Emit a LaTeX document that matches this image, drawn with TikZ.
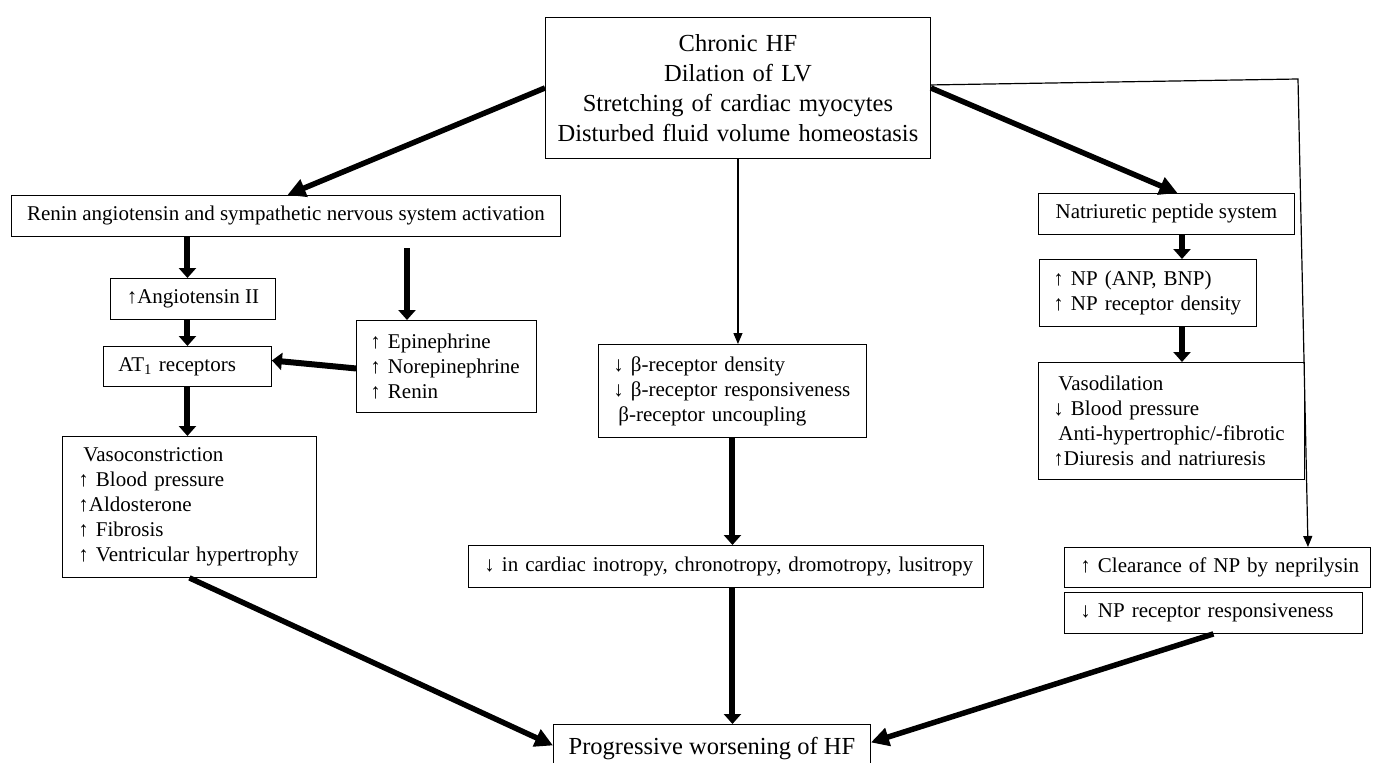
\documentclass[tikz,border=0pt]{standalone}
\usepackage{fontspec}
\setmainfont{Liberation Serif}
\usetikzlibrary{arrows.meta,calc}
\newcommand\fsA{\fontsize{21}{25}\selectfont}
\newcommand\fsB{\fontsize{24.5}{30}\selectfont}
\begin{document}
\begin{tikzpicture}[x=1pt,y=-1pt,
  box/.style={draw, line width=0.9pt, anchor=north west, inner ysep=0pt, font=\fsA},
  lbox/.style={box, align=left, inner xsep=0pt},
  cbox/.style={box, align=center},
  thinarrow/.style={line width=1.2pt, -{Triangle[length=11pt,width=9pt]}},
  vthick/.style={line width=6pt, -{Triangle[length=10pt,width=17pt]}},
  dthick/.style={line width=5.5pt, -{Triangle[length=18pt,width=18pt]}}]
\useasboundingbox (0,0) rectangle (1374,763);

% boxes
\node[cbox, font=\fsB, minimum width=385pt, minimum height=141pt, text width=385pt, inner xsep=0pt] (top) at (545,17)
  {Chronic HF\\Dilation of LV\\Stretching of cardiac myocytes\\Disturbed fluid volume homeostasis};
\node[cbox, minimum width=549pt, minimum height=41pt] (renin) at (11,195)
  {Renin angiotensin and sympathetic nervous system activation};
\node[cbox, minimum width=165pt, minimum height=41pt] (angio) at (110,278) {↑Angiotensin II};
\node[lbox, text width=168pt, minimum height=40pt] (at1) at (103,346)
  {\leftskip=15pt\relax AT\textsubscript{1} receptors\par};
\node[lbox, text width=180pt, minimum height=92pt] (epi) at (356,320)
  {\leftskip=14pt\relax ↑ Epinephrine\\↑ Norepinephrine\\↑ Renin\par};
\node[lbox, text width=254pt, minimum height=141pt] (vaso) at (62,436)
  {\leftskip=16pt\relax \hspace*{5pt}Vasoconstriction\\↑ Blood pressure\\↑Aldosterone\\↑ Fibrosis\\↑ Ventricular hypertrophy\par};
\node[lbox, text width=268pt, minimum height=93pt] (beta) at (598,344)
  {\leftskip=15pt\relax ↓ β-receptor density\\↓ β-receptor responsiveness\\\hspace*{5pt}β-receptor uncoupling\par};
\node[lbox, text width=515pt, minimum height=42pt] (cardiac) at (468,545)
  {\leftskip=16pt\relax ↓ in cardiac inotropy, chronotropy, dromotropy, lusitropy\par};
\node[cbox, minimum width=256pt, minimum height=41pt] (nat) at (1038,193) {Natriuretic peptide system};
\node[lbox, text width=217pt, minimum height=67pt] (np) at (1039,259)
  {\leftskip=14pt\relax ↑ NP (ANP, BNP)\\↑ NP receptor density\par};
\node[lbox, text width=266pt, minimum height=117pt] (vd) at (1038,362)
  {\leftskip=15pt\relax \hspace*{5pt}Vasodilation\\↓ Blood pressure\\\hspace*{5pt}Anti-hypertrophic/-fibrotic\\↑Diuresis and natriuresis\par};
\node[lbox, text width=306pt, minimum height=40pt] (clear) at (1064,547)
  {\leftskip=16pt\relax ↑ Clearance of NP by neprilysin\par};
\node[lbox, text width=298pt, minimum height=41pt] (npresp) at (1064,592)
  {\leftskip=16pt\relax ↓ NP receptor responsiveness\par};
\node[cbox, font=\fsB, minimum width=317pt, minimum height=48pt] (prog) at (553,724) {Progressive worsening of HF};

% helper coordinates
\coordinate (c1) at (407,248);
\coordinate (nx) at (1182,0);
\coordinate (k1) at (1298,79);
\coordinate (k2) at (1308,0);

% left branch
\draw[dthick] (top.west) -- ($(renin.north)+(1.5,0)$);
\draw[vthick] (renin.south -| at1.north) -- (angio.north -| at1.north);
\draw[vthick] (angio.south -| at1.north) -- (at1.north);
\draw[vthick] (at1.south) -- (at1.south |- vaso.north);
\draw[vthick] (c1) -- (c1 |- epi.north);
\draw[vthick] ($(epi.west)+(0,2)$) -- ($(at1.east)+(0,-6)$);
\draw[dthick] (vaso.south) -- ($(prog.west)+(0,-3)$);

% middle branch
\draw[thinarrow] (top.south) -- (top.south |- beta.north);
\draw[vthick] (beta.south) -- (beta.south |- cardiac.north);
\draw[vthick] (beta.south |- cardiac.south) -- (beta.south |- prog.north);

% right branch
\draw[dthick] (top.east) -- ($(nat.north)+(11,0)$);
\draw[vthick] (nat.south -| nx) -- (np.north -| nx);
\draw[vthick] (np.south -| nx) -- (vd.north -| nx);
\draw[thinarrow] ($(top.east)+(0,-3)$) -- (k1) -- (clear.north -| k2);
\draw[dthick] (npresp.south) -- ($(prog.east)+(0,-6)$);
\end{tikzpicture}
\end{document}
